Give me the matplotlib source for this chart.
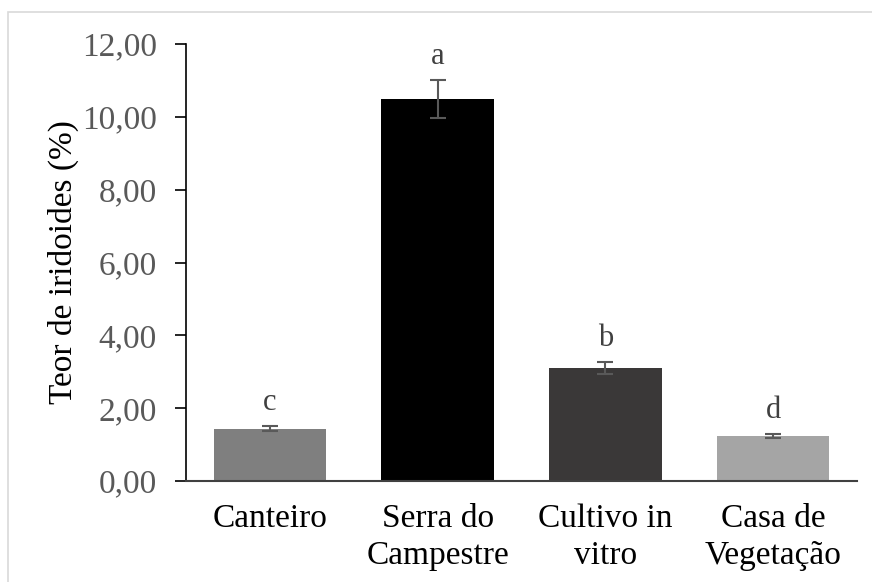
import matplotlib
matplotlib.use("Agg")
import matplotlib.pyplot as plt
from matplotlib.patches import Rectangle

categorias = ["Canteiro", "Serra do\nCampestre", "Cultivo in\nvitro", "Casa de\nVegetação"]
teor = [1.44, 10.49, 3.10, 1.24]
erro = [0.08, 0.53, 0.17, 0.06]
letras = ["c", "a", "b", "d"]
cores = ["#7f7f7f", "#000000", "#3a3838", "#a5a5a5"]
yticks = [0, 2, 4, 6, 8, 10, 12]

plt.rcParams["font.family"] = ["Liberation Serif", "DejaVu Serif"]

fig = plt.figure(figsize=(8.72, 5.82), dpi=100)
ax = fig.add_axes([0.2133, 0.1735, 0.7697, 0.7509])

x = range(len(teor))
ax.bar(x, teor, width=0.67, color=cores, zorder=2)
ax.errorbar(x, teor, yerr=erro, fmt="none", ecolor="#595959", elinewidth=1.5,
            capsize=6, capthick=1.5, zorder=3)
for i in x:
    ax.text(i, teor[i] + erro[i] + 0.25, letras[i], ha="center", va="bottom",
            fontsize=22, color="#404040")

ax.set_xlim(-0.5, 3.5)
ax.set_ylim(0, 12)
ax.set_yticks(yticks)
ax.set_yticklabels([("%.2f" % v).replace(".", ",") for v in yticks],
                   color="#595959", fontsize=24)
ax.set_xticks(list(x))
ax.set_xticklabels(categorias, fontsize=24, linespacing=1.3)
ax.tick_params(axis="x", length=0, pad=16)
ax.tick_params(axis="y", length=8, width=1.2, direction="out", pad=13)
ax.set_ylabel("Teor de iridoides (%)", fontsize=24, labelpad=2)

for s in ["top", "right"]:
    ax.spines[s].set_visible(False)
ax.spines["left"].set_linewidth(1.2)
ax.spines["bottom"].set_linewidth(1.5)
ax.spines["bottom"].set_color("#404040")

# borda cinza da area do grafico
fig.patches.append(Rectangle((8 / 872, -0.05), 1.1, 1 - 12 / 582 + 0.05,
                             transform=fig.transFigure, fill=False,
                             edgecolor="#d9d9d9", linewidth=1.2))

fig.savefig("out.png", dpi=100)
